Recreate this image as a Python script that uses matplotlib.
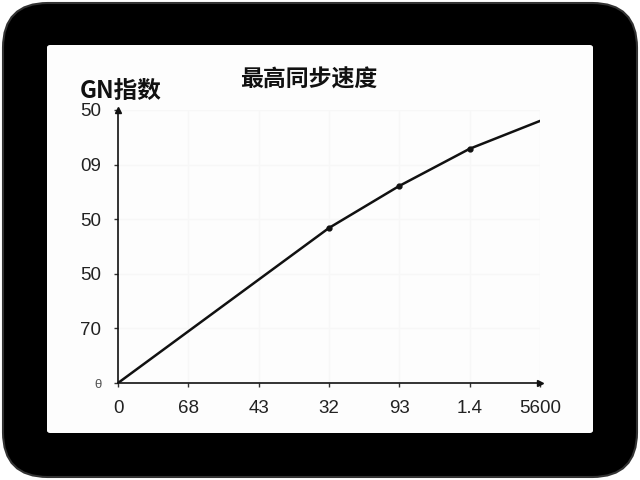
import matplotlib
matplotlib.use("Agg")
import matplotlib.pyplot as plt
from matplotlib.patches import FancyBboxPatch

plt.rcParams['font.family'] = ['Noto Sans CJK SC', 'DejaVu Sans']

title = "最高同步速度"
ylabel = "GN指数"
x_labels = ["0", "68", "43", "32", "93", "1.4", "5600"]
y_labels = ["θ", "70", "50", "50", "09", "50"]
x_vals = [0, 3, 4, 5, 6]
y_vals = [0.0, 2.84, 3.61, 4.29, 4.80]
marker_x = [3, 4, 5]
marker_y = [2.84, 3.61, 4.29]

fig = plt.figure(figsize=(6.4, 4.8), dpi=100)
fig.patch.set_facecolor('white')

# device frame
frame = FancyBboxPatch((3 / 640, 3 / 480), 634 / 640, 474 / 480,
                       boxstyle="round,pad=0,rounding_size=0.07",
                       transform=fig.transFigure, facecolor='black',
                       edgecolor='#333333', linewidth=1.5,
                       mutation_aspect=640 / 480, zorder=0)
fig.patches.append(frame)
screen = FancyBboxPatch((47 / 640, 47 / 480), 546 / 640, 388 / 480,
                        boxstyle="round,pad=0,rounding_size=0.005",
                        transform=fig.transFigure, facecolor='#fdfdfd',
                        edgecolor='none', zorder=1)
fig.patches.append(screen)

ax = fig.add_axes([118 / 640, 97 / 480, 422 / 640, 273 / 480])
ax.set_facecolor('none')
ax.set_zorder(2)
ax.set_xlim(0, 6)
ax.set_ylim(0, 5)

ax.plot(x_vals, y_vals, color='#111111', linewidth=1.8, solid_capstyle='round')
ax.plot(marker_x, marker_y, 'o', color='#111111', markersize=3.5)

for s in ['top', 'right']:
    ax.spines[s].set_visible(False)
for s in ['left', 'bottom']:
    ax.spines[s].set_color('#111111')
    ax.spines[s].set_linewidth(1.2)

ax.plot(1, 0, '>', color='#111111', markersize=4, transform=ax.transAxes, clip_on=False)
ax.plot(0, 1, '^', color='#111111', markersize=4, transform=ax.transAxes, clip_on=False)

ax.set_xticks(range(len(x_labels)))
ax.set_xticklabels(x_labels, fontsize=13.5, color='#222222', family=['Liberation Sans', 'DejaVu Sans'])
ax.set_yticks(range(len(y_labels)))
ax.set_yticklabels(y_labels, fontsize=13.5, color='#222222', family=['Liberation Sans', 'DejaVu Sans'])
ax.get_yticklabels()[0].set_fontsize(9.5)
ax.get_yticklabels()[0].set_color('#555555')
ax.tick_params(axis='both', length=3, width=1, color='#333333')
ax.tick_params(axis='x', pad=9)
ax.tick_params(axis='y', pad=9)

ax.grid(True, color='#f7f7f7', linewidth=1)
ax.set_axisbelow(True)

fig.text(309 / 640, 1 - 80 / 480, title, fontsize=16.5, fontweight='bold', ha='center', va='center', color='#111111')
fig.text(80 / 640, 1 - 91 / 480, ylabel, fontsize=17, fontweight='bold', ha='left', va='center', color='#111111')

fig.savefig('out.png', dpi=100)
